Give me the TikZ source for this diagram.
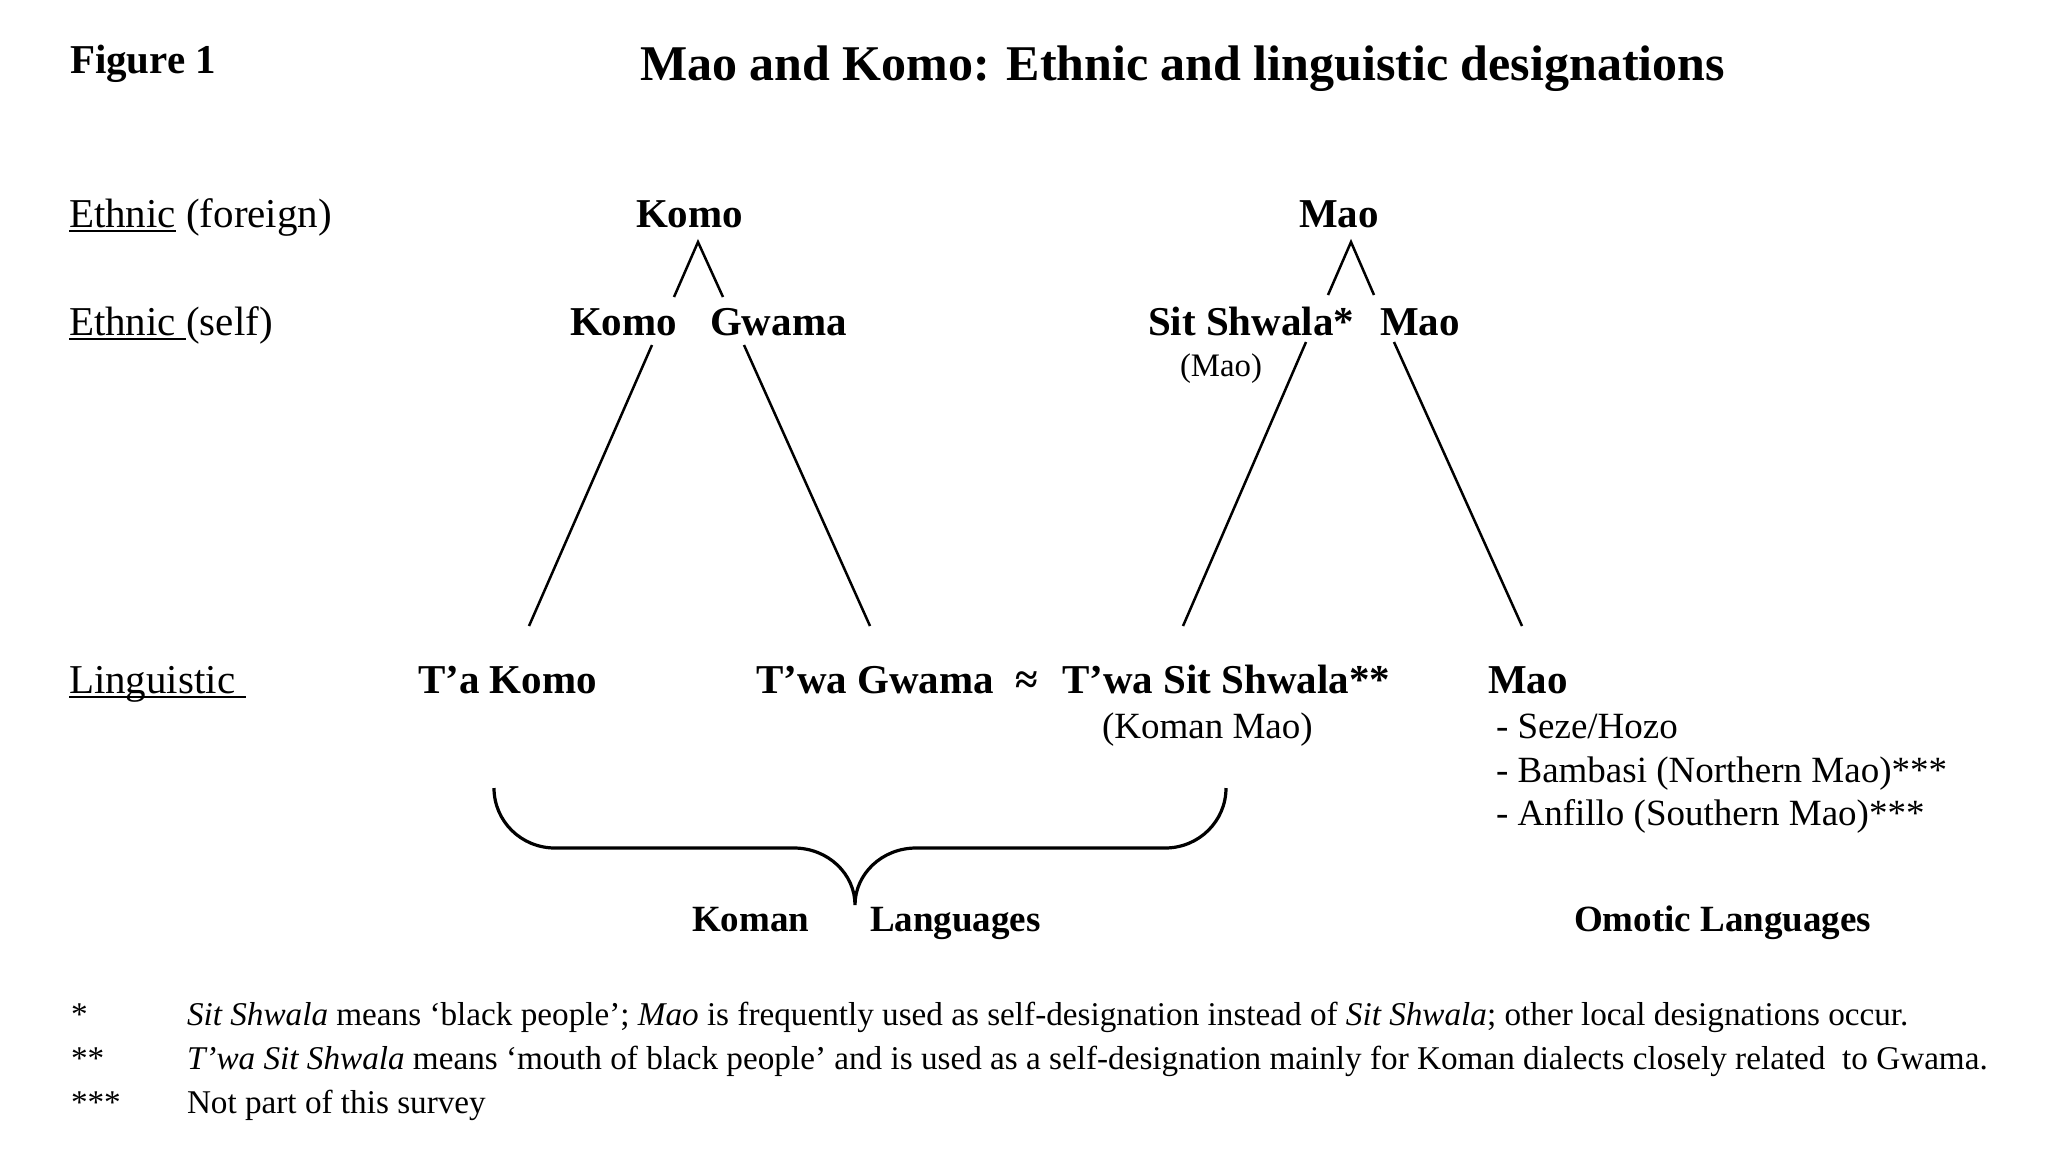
\documentclass[tikz,border=0pt]{standalone}
\usepackage{fontspec}
\setmainfont{Liberation Serif}
\usetikzlibrary{positioning}
% underline that runs through the descenders, like Word does
\newcommand{\wordul}[1]{\setbox0\hbox{#1}\rlap{\rule[-2.6pt]{\wd0}{1pt}}\box0\relax}
\tikzset{
    txt/.style={
        anchor=base west,
        inner sep=0pt,
        outer sep=0pt
    },
    rowname/.style={
        txt,
        font=\fontsize{20.5}{24}\selectfont
    },
    term/.style={
        txt,
        font=\fontsize{20.5}{24}\selectfont\bfseries
    },
    subterm/.style={
        txt,
        font=\fontsize{18.5}{22}\selectfont
    },
    family/.style={
        txt,
        font=\fontsize{18.5}{22}\selectfont\bfseries
    },
    note/.style={
        txt,
        font=\fontsize{16.6}{20}\selectfont
    },
    treeline/.style={
        line width=1.25pt
    },
    bracket/.style={
        line width=1.6pt
    }
}

\begin{document}
\begin{tikzpicture}[x=0.5pt, y=-0.5pt]
    \useasboundingbox (0,0) rectangle (2065,1164);

    % heading
    \node[term] (fig) at (70,73) {Figure 1};
    \node[txt, font=\fontsize{25}{30}\selectfont\bfseries] (title) at (640,80) {Mao and Komo: Ethnic and linguistic designations};

    % row names
    \node[rowname] (rowF) at (69,227) {\wordul{Ethnic} (foreign)};
    \node[rowname] (rowS) at (69,335) {\wordul{Ethnic\ }(self)};
    \node[rowname] (rowL) at (69,693) {\wordul{Linguistic\ }};

    % ethnic, foreign
    \node[term] (komoF) at (636,227) {Komo};
    \node[term] (maoF) at (1299,227) {Mao};

    % ethnic, self
    \node[term] (komoS) at (570,335) {Komo};
    \node[term] (gwamaS) at (710,335) {Gwama};
    \node[term] (sitS) at (1148,335) {Sit Shwala*};
    \node[term] (maoS) at (1380,335) {Mao};
    \node[txt, font=\fontsize{16.4}{20}\selectfont] (maoSub) at (1180,376) {(Mao)};

    % linguistic
    \node[term] (taKomo) at (418,693) {T’a Komo};
    \node[term] (twaGwama) at (756,693) {T’wa Gwama};
    \node[term] (approx) at (1015,693) {≈};
    \node[term] (twaSit) at (1062,693) {T’wa Sit Shwala**};
    \node[subterm] (komanMao) at (1102,738) {(Koman Mao)};
    \node[term] (maoL) at (1488,693) {Mao};
    \node[subterm] (seze) at (1496,738) {- Seze/Hozo};
    \node[subterm] (bambasi) at (1496,782) {- Bambasi (Northern Mao)***};
    \node[subterm] (anfillo) at (1496,825) {- Anfillo (Southern Mao)***};

    % language families
    \node[family] (koman) at (692,931) {Koman};
    \node[family] (langs) at (870,931) {Languages};
    \node[family] (omotic) at (1574,931) {Omotic Languages};

    % tree ends
    \coordinate (komoTop) at (698,242);
    \coordinate (komoL) at (674,297);
    \coordinate (komoR) at (723,297);
    \coordinate (maoTop) at (1351,242);
    \coordinate (maoL) at (1328,295);
    \coordinate (maoR) at (1374,295);
    \coordinate (komoFoot) at (652,345);
    \coordinate (gwamaFoot) at (744,345);
    \coordinate (sitFoot) at (1306,342);
    \coordinate (maoFoot) at (1394,342);
    \coordinate (taKomoTop) at (529,626);
    \coordinate (twaGwamaTop) at (870,626);
    \coordinate (twaSitTop) at (1183,626);
    \coordinate (maoLTop) at (1522,626);

    \draw[treeline] (komoL) -- (komoTop) -- (komoR);
    \draw[treeline] (maoL) -- (maoTop) -- (maoR);
    \draw[treeline] (komoFoot) -- (taKomoTop);
    \draw[treeline] (gwamaFoot) -- (twaGwamaTop);
    \draw[treeline] (sitFoot) -- (twaSitTop);
    \draw[treeline] (maoFoot) -- (maoLTop);

    % brace under the Koman languages
    \coordinate (braceL) at (494,788);
    \coordinate (braceTip) at (855,905);
    \coordinate (braceR) at (1226,788);
    \draw[bracket] (braceL) .. controls (494,821) and (521,848) .. (555,848)
        -- (794,848) .. controls (828,848) and (855,874) .. (braceTip)
        .. controls (855,874) and (882,848) .. (916,848)
        -- (1165,848) .. controls (1199,848) and (1226,821) .. (braceR);

    % footnotes
    \node[note] (star1) at (71,1025) {*};
    \node[note] (star2) at (71,1069) {**};
    \node[note] (star3) at (71,1113) {***};
    \node[note] (note1) at (187,1025) {\textit{Sit Shwala} means ‘black people’; \textit{Mao} is frequently used as self-designation instead of \textit{Sit Shwala}; other local designations occur.};
    \node[note] (note2) at (187,1069) {\textit{T’wa Sit Shwala} means ‘mouth of black people’ and is used as a self-designation mainly for Koman dialects closely related \ to Gwama.};
    \node[note] (note3) at (187,1113) {Not part of this survey};
\end{tikzpicture}
\end{document}
